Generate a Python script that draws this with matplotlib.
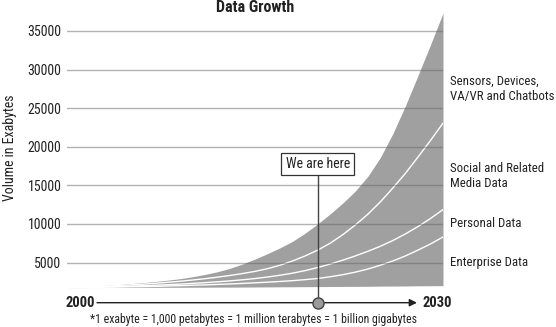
import matplotlib
matplotlib.use('Agg')
import matplotlib.pyplot as plt

plt.rcParams['font.family'] = ['Roboto Condensed', 'DejaVu Sans']

# ---- data ----
years = list(range(2000, 2031))
base = [1750, 1750, 1760, 1760, 1770, 1770, 1780, 1780, 1790, 1790, 1800,
        1800, 1810, 1810, 1820, 1830, 1840, 1850, 1860, 1870, 1880,
        1890, 1900, 1910, 1920, 1940, 1950, 1960, 1980, 1990, 2000]
enterprise_top = [1750, 1760, 1775, 1795, 1820, 1850, 1880, 1915, 1955, 2000, 2050,
                  2100, 2160, 2220, 2290, 2370, 2450, 2540, 2650, 2780, 2930,
                  3150, 3420, 3750, 4150, 4650, 5200, 5850, 6600, 7400, 8300]
personal_top = [1750, 1770, 1800, 1840, 1880, 1930, 1990, 2050, 2120, 2200, 2290,
                2390, 2500, 2620, 2760, 2920, 3120, 3350, 3620, 3950, 4350,
                4800, 5300, 5850, 6450, 7100, 7850, 8700, 9650, 10700, 11850]
social_top = [1750, 1800, 1850, 1920, 2000, 2090, 2190, 2300, 2430, 2570, 2730,
              2900, 3100, 3320, 3570, 3850, 4200, 4650, 5200, 5850, 6600,
              7500, 8600, 9850, 11250, 12850, 14650, 16550, 18650, 20800, 23050]
sensors_top = [1750, 1830, 1920, 2020, 2130, 2250, 2380, 2530, 2700, 2900, 3150,
               3450, 3800, 4250, 4800, 5450, 6150, 6900, 7750, 8800, 10000,
               11300, 12700, 14250, 16150, 18600, 21700, 25300, 29200, 33200, 37300]

y_ticks = [5000, 10000, 15000, 20000, 25000, 30000, 35000]
now_year = 2020
start_label = '2000'
end_label = '2030'
series_labels = ['Sensors, Devices,\nVA/VR and Chatbots', 'Social and Related\nMedia Data',
                 'Personal Data', 'Enterprise Data']
label_y = [27500, 16200, 10100, 5000]

W, H = 556, 327
fig = plt.figure(figsize=(W / 100, H / 100), dpi=100)
y0, ytop = 301.1, 11.6
ax = fig.add_axes([67 / W, (H - y0) / H, 376 / W, (y0 - ytop) / H])
ax.set_xlim(2000, 2030)
ax.set_ylim(0, 37500)

ax.fill_between(years, base, sensors_top, color='#a0a0a0', lw=0, zorder=1)
for s in (social_top, personal_top, enterprise_top):
    ax.plot(years, s, color='white', lw=1.0, zorder=2, solid_joinstyle='round')

ax.set_yticks(y_ticks)
ax.set_yticklabels([str(v) for v in y_ticks])
ax.set_xticks([])
ax.yaxis.grid(True, color='#666666', alpha=0.5, lw=1.0, zorder=3)
ax.set_axisbelow(False)
ax.tick_params(axis='y', length=0, labelsize=10, pad=4, labelcolor='#222222')
for sp in ax.spines.values():
    sp.set_visible(False)

# y label and title
fig.text(10 / W, 1 - 148 / H, 'Volume in Exabytes', rotation=90, ha='center', va='center',
         fontsize=10, color='#222222')
fig.text(255 / W, 1 - 8 / H, 'Data Growth', ha='center', va='center', fontsize=11.5,
         fontweight='bold', color='#222222')

# time arrow
ya = (y0 - 302.7) / (y0 - ytop)
tr = ax.get_xaxis_transform()
ax.annotate('', xy=((417 - 67) / 376, ya), xytext=((97 - 67) / 376, ya),
            xycoords='axes fraction', textcoords='axes fraction',
            arrowprops=dict(arrowstyle='-|>', color='#222222', lw=1.0,
                            mutation_scale=11, shrinkA=0, shrinkB=0),
            annotation_clip=False)
fig.text(65 / W, 1 - 303 / H, start_label, ha='left', va='center', fontsize=10.5,
         fontweight='bold', color='#222222')
fig.text(422 / W, 1 - 303 / H, end_label, ha='left', va='center', fontsize=10.5,
         fontweight='bold', color='#222222')

# "We are here"
box_bottom = (y0 - 175) / (y0 - ytop)
box_center = (y0 - 164) / (y0 - ytop)
ax.plot([now_year, now_year], [ya, box_bottom], transform=tr, color='#444444',
        lw=1.0, zorder=4, clip_on=False)
ax.plot([now_year], [ya], 'o', transform=tr, ms=8, mfc='#9a9a9a', mec='#444444',
        mew=1.0, zorder=6, clip_on=False)
ax.text(now_year, box_center, 'We are here', transform=tr, ha='center', va='center',
        fontsize=10, color='#222222', zorder=7,
        bbox=dict(boxstyle='square,pad=0.3', fc='white', ec='#333333', lw=0.9))

# right labels
for lab, yv in zip(series_labels, label_y):
    ax.text(1.0 + 7 / 376, yv, lab, transform=ax.get_yaxis_transform(), ha='left',
            va='center', fontsize=9.3, color='#222222', linespacing=1.25)

# footnote
fig.text(254 / W, 1 - 319 / H,
         '*1 exabyte = 1,000 petabytes = 1 million terabytes = 1 billion gigabytes',
         ha='center', va='center', fontsize=8.5, color='#222222')

fig.savefig('out.png', dpi=100, facecolor='white')
